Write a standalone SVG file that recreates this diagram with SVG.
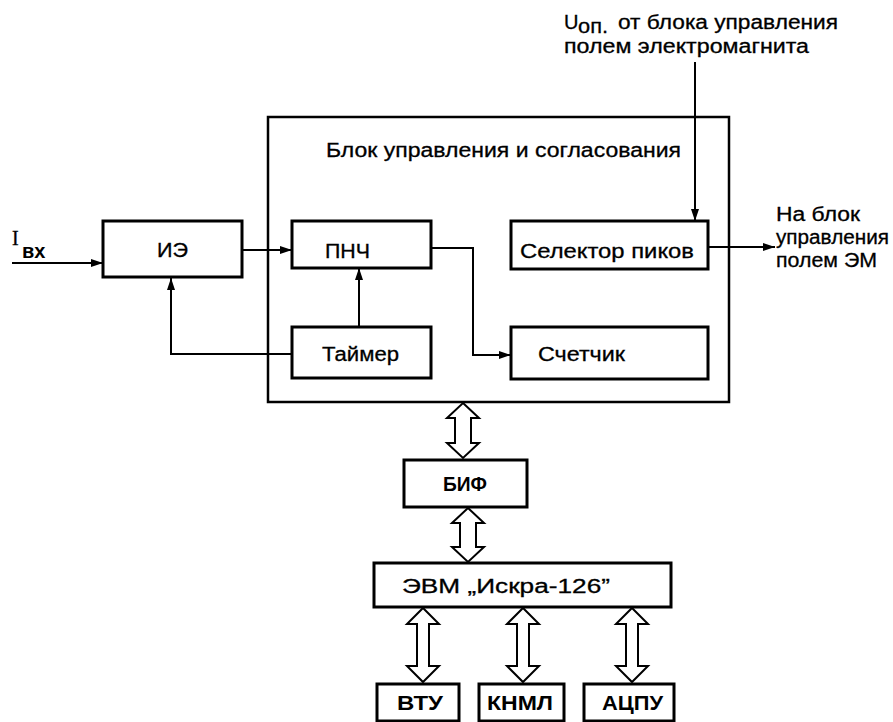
<svg xmlns="http://www.w3.org/2000/svg" width="893" height="722" viewBox="0 0 893 722">
<style>
.box{fill:#fff;stroke:#000;stroke-width:3}
.big{fill:none;stroke:#000;stroke-width:2.5}
.ln{fill:none;stroke:#000;stroke-width:2}
.da{fill:#fff;stroke:#000;stroke-width:2;stroke-linejoin:miter}
text{font-family:"Liberation Sans","DejaVu Sans",sans-serif;font-size:20px;fill:#000;stroke:#000;stroke-width:0.3}
.m{text-anchor:middle}
.b{font-weight:bold;stroke-width:0}
</style>
<defs>
<marker id="ah" viewBox="0 0 12 8" refX="12" refY="4" markerWidth="12" markerHeight="8" markerUnits="userSpaceOnUse" orient="auto">
<path d="M0,0 L12,4 L0,8 Z" fill="#000"/>
</marker>
</defs>
<rect width="893" height="722" fill="#fff"/>

<g id="big-block">
<rect class="big" x="268" y="117" width="461" height="285"/>
<text x="326" y="157" textLength="355" lengthAdjust="spacingAndGlyphs">Блок управления и согласования</text>
</g>

<g id="connectors">
<line class="ln" x1="12" y1="263" x2="103" y2="263" marker-end="url(#ah)"/>
<line class="ln" x1="242" y1="250" x2="292" y2="250" marker-end="url(#ah)"/>
<polyline class="ln" points="292,354 171,354 171,278" marker-end="url(#ah)"/>
<line class="ln" x1="359" y1="327" x2="359" y2="268" marker-end="url(#ah)"/>
<polyline class="ln" points="431,248 473,248 473,355 511,355" marker-end="url(#ah)"/>
<line class="ln" x1="695" y1="62" x2="695" y2="221" marker-end="url(#ah)"/>
<line class="ln" x1="708" y1="247" x2="775" y2="247" marker-end="url(#ah)"/>
<polygon class="da" points="463,403 479,418 471,418 471,443 479,443 463,458 447,443 455,443 455,418 447,418"/>
<polygon class="da" points="468,508 484,523 476,523 476,547 484,547 468,562 452,547 460,547 460,523 452,523"/>
<polygon class="da" points="423,608 439,624 429,624 429,666 439,666 423,682 407,666 417,666 417,624 407,624"/>
<polygon class="da" points="523,608 539,624 529,624 529,666 539,666 523,682 507,666 517,666 517,624 507,624"/>
<polygon class="da" points="632,608 648,624 638,624 638,666 648,666 632,682 616,666 626,666 626,624 616,624"/>
</g>

<g id="input-label">
<text x="12" y="245" font-size="22" style="font-family:'Liberation Serif',serif">I</text>
<text x="22" y="258" font-size="17" class="b">вх</text>
</g>

<g id="uop-label">
<text x="564" y="29">U</text>
<text x="578" y="33" font-size="15" textLength="30" lengthAdjust="spacingAndGlyphs">оп.</text>
<text x="618" y="29" textLength="220" lengthAdjust="spacingAndGlyphs">от блока управления</text>
<text x="564" y="53" textLength="245" lengthAdjust="spacingAndGlyphs">полем  электромагнита</text>
</g>

<g id="output-label">
<text x="776" y="221" textLength="84" lengthAdjust="spacingAndGlyphs">На блок</text>
<text x="776" y="244" textLength="113" lengthAdjust="spacingAndGlyphs">управления</text>
<text x="776" y="267" textLength="101" lengthAdjust="spacingAndGlyphs">полем ЭМ</text>
</g>

<g id="ie">
<rect class="box" x="103" y="221" width="139" height="56"/>
<text x="157" y="257" textLength="31" lengthAdjust="spacingAndGlyphs">ИЭ</text>
</g>
<g id="pnch">
<rect class="box" x="292" y="221" width="139" height="47"/>
<text x="325" y="258" textLength="45" lengthAdjust="spacingAndGlyphs">ПНЧ</text>
</g>
<g id="timer">
<rect class="box" x="292" y="327" width="139" height="51"/>
<text x="322" y="361" textLength="77" lengthAdjust="spacingAndGlyphs">Таймер</text>
</g>
<g id="selector">
<rect class="box" x="511" y="221" width="197" height="48"/>
<text x="520" y="258" textLength="174" lengthAdjust="spacingAndGlyphs">Селектор  пиков</text>
</g>
<g id="counter">
<rect class="box" x="511" y="327" width="197" height="52"/>
<text x="538" y="361" textLength="87" lengthAdjust="spacingAndGlyphs">Счетчик</text>
</g>
<g id="bif">
<rect class="box" x="404" y="460" width="123" height="47"/>
<text class="b" x="443" y="491" textLength="44" lengthAdjust="spacingAndGlyphs">БИФ</text>
</g>
<g id="evm">
<rect class="box" x="374" y="563" width="297" height="44"/>
<text x="402" y="593" textLength="208" lengthAdjust="spacingAndGlyphs">ЭВМ „Искра-126”</text>
</g>
<g id="vtu">
<rect class="box" x="377" y="684" width="82" height="37"/>
<text class="b" x="397" y="710" textLength="46" lengthAdjust="spacingAndGlyphs">ВТУ</text>
</g>
<g id="knml">
<rect class="box" x="479" y="684" width="85" height="37"/>
<text class="b" x="487" y="710" textLength="66" lengthAdjust="spacingAndGlyphs">КНМЛ</text>
</g>
<g id="acpu">
<rect class="box" x="584" y="684" width="90" height="37"/>
<text class="b" x="602" y="710" textLength="61" lengthAdjust="spacingAndGlyphs">АЦПУ</text>
</g>
</svg>
